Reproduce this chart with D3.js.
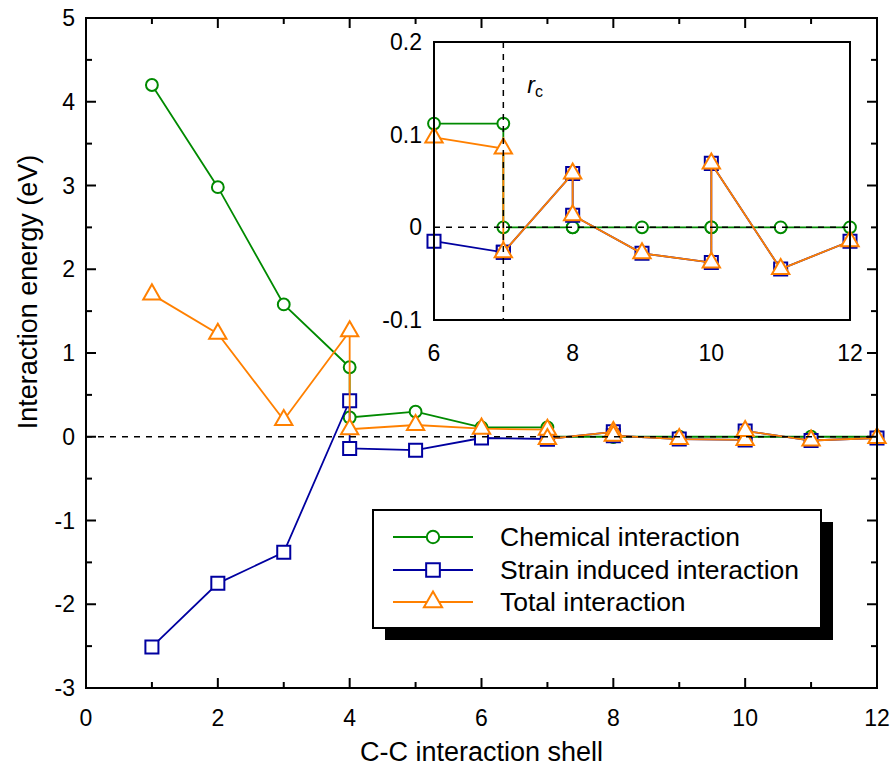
<!DOCTYPE html>
<html>
<head>
<meta charset="utf-8">
<script src="https://cdn.jsdelivr.net/npm/d3@7"></script>
<style>
    body { margin: 0; background: #fff; }
    text { font-family: "Liberation Sans", Arial, sans-serif; fill: #000; }
</style>
</head>
<body>
<div id="chart"></div>
<script>
// data (shells 4, 7, 8 and 10 have two sub-shells)
let shells = [1, 2, 3, 4, 4, 5, 6, 7, 7, 8, 8, 9, 10, 10, 11, 12];
let chemical = [4.20, 2.98, 1.58, 0.83, 0.23, 0.30, 0.112, 0.112, 0, 0, 0, 0, 0, 0, 0, 0];
let strain = [-2.51, -1.75, -1.38, 0.43, -0.14, -0.16, -0.015, -0.027, -0.027, 0.058, 0.013, -0.028, -0.038, 0.069, -0.045, -0.015];
let total = [1.70, 1.23, 0.20, 1.26, 0.09, 0.14, 0.097, 0.085, -0.027, 0.058, 0.013, -0.028, -0.038, 0.069, -0.045, -0.015];
let seriesNames = ["Chemical interaction", "Strain induced interaction", "Total interaction"];

let xTicks = [0, 2, 4, 6, 8, 10, 12];
let yTicks = [-3, -2, -1, 0, 1, 2, 3, 4, 5];
let insetXTicks = [6, 8, 10, 12];
let insetYTicks = [-0.1, 0, 0.1, 0.2];

// set size for svg container
let width = 896;
let height = 767;

let svg = d3.select("#chart").append("svg").attr("width", width).attr("height", height);

let colors = ["#008a00", "#0000a0", "#ff8000"];
let shapes = [d3.symbolCircle, d3.symbolSquare, d3.symbolTriangle];
let sizes = [110, 170, 130];
let allSeries = [chemical, strain, total];

// main chart area
let main = {left: 86, right: 877, top: 18, bottom: 688};
let xScale = d3.scaleLinear().domain([0, 12]).range([main.left, main.right]);
let yScale = d3.scaleLinear().domain([-3, 5]).range([main.bottom, main.top]);

// inset chart area
let inset = {left: 434, right: 850, top: 42, bottom: 320};
let xInset = d3.scaleLinear().domain([6, 12]).range([inset.left, inset.right]);
let yInset = d3.scaleLinear().domain([-0.1, 0.2]).range([inset.bottom, inset.top]);

function drawSeries(g, xs, ys, startIndex) {
    allSeries.forEach((values, k) => {
        let pts = shells.map((s, i) => [s, values[i]]).filter((d, i) => i >= startIndex);
        let line = d3.line().x(d => xs(d[0])).y(d => ys(d[1]));
        g.append("path").attr("d", line(pts)).attr("fill", "none")
            .attr("stroke", colors[k]).attr("stroke-width", 1.8);
        g.selectAll(".m" + k).data(pts).enter().append("path")
            .attr("class", "m" + k)
            .attr("transform", d => `translate(${xs(d[0])}, ${ys(d[1])})`)
            .attr("d", d3.symbol().type(shapes[k]).size(sizes[k]))
            .attr("fill", "white").attr("stroke", colors[k]).attr("stroke-width", 2);
    });
}

function drawTicks(g, scale, values, x0, x1, len, vertical) {
    // ticks pointing inward from both sides
    values.forEach(v => {
        let p = scale(v);
        if (vertical) {
            g.append("line").attr("x1", x0).attr("x2", x0 + len).attr("y1", p).attr("y2", p).attr("stroke", "black").attr("stroke-width", 2);
            g.append("line").attr("x1", x1).attr("x2", x1 - len).attr("y1", p).attr("y2", p).attr("stroke", "black").attr("stroke-width", 2);
        } else {
            g.append("line").attr("y1", x0).attr("y2", x0 - len).attr("x1", p).attr("x2", p).attr("stroke", "black").attr("stroke-width", 2);
            g.append("line").attr("y1", x1).attr("y2", x1 + len).attr("x1", p).attr("x2", p).attr("stroke", "black").attr("stroke-width", 2);
        }
    });
}

// main chart data
let mainGroup = svg.append("g");
drawSeries(mainGroup, xScale, yScale, 0);

// zero line
svg.append("line").attr("x1", main.left).attr("x2", main.right).attr("y1", yScale(0)).attr("y2", yScale(0))
    .attr("stroke", "black").attr("stroke-width", 1.5).attr("stroke-dasharray", "6,6");

// main frame and ticks
svg.append("rect").attr("x", main.left).attr("y", main.top).attr("width", main.right - main.left)
    .attr("height", main.bottom - main.top).attr("fill", "none").attr("stroke", "black").attr("stroke-width", 2);
let tickGroup = svg.append("g");
drawTicks(tickGroup, yScale, d3.range(-3, 5.01, 1), main.left, main.right, 10, true);
drawTicks(tickGroup, yScale, d3.range(-2.5, 5, 1), main.left, main.right, 6, true);
drawTicks(tickGroup, xScale, d3.range(0, 12.01, 2), main.bottom, main.top, 10, false);
drawTicks(tickGroup, xScale, d3.range(1, 12, 2), main.bottom, main.top, 6, false);

svg.selectAll(".ylab").data(yTicks).enter().append("text").attr("class", "ylab")
    .attr("x", main.left - 11).attr("y", d => yScale(d) + 8).attr("text-anchor", "end")
    .attr("font-size", "23px").text(d => d);
svg.selectAll(".xlab").data(xTicks).enter().append("text").attr("class", "xlab")
    .attr("x", d => xScale(d)).attr("y", main.bottom + 38).attr("text-anchor", "middle")
    .attr("font-size", "23px").text(d => d);

// axis titles
svg.append("text").attr("x", (main.left + main.right) / 2).attr("y", 761).attr("text-anchor", "middle")
    .attr("font-size", "27px").text("C-C interaction shell");
svg.append("text").attr("transform", "rotate(-90)").attr("x", -292).attr("y", 37).attr("text-anchor", "middle")
    .attr("font-size", "27px").text("Interaction energy (eV)");

// inset
svg.append("rect").attr("x", inset.left).attr("y", inset.top).attr("width", inset.right - inset.left)
    .attr("height", inset.bottom - inset.top).attr("fill", "white");
let insetGroup = svg.append("g");
drawSeries(insetGroup, xInset, yInset, 6);
svg.append("line").attr("x1", inset.left).attr("x2", inset.right).attr("y1", yInset(0)).attr("y2", yInset(0))
    .attr("stroke", "black").attr("stroke-width", 1.5).attr("stroke-dasharray", "6,6");
svg.append("line").attr("x1", xInset(7)).attr("x2", xInset(7)).attr("y1", inset.top).attr("y2", inset.bottom)
    .attr("stroke", "black").attr("stroke-width", 1.5).attr("stroke-dasharray", "6,6");
svg.append("rect").attr("x", inset.left).attr("y", inset.top).attr("width", inset.right - inset.left)
    .attr("height", inset.bottom - inset.top).attr("fill", "none").attr("stroke", "black").attr("stroke-width", 2);
drawTicks(tickGroup, yInset, [-0.05, 0.05, 0.1, 0.15], inset.left, inset.right, 10, true);

svg.selectAll(".iylab").data(insetYTicks).enter().append("text").attr("class", "iylab")
    .attr("x", inset.left - 12).attr("y", d => yInset(d) + 8).attr("text-anchor", "end")
    .attr("font-size", "23px").text(d => d);
svg.selectAll(".ixlab").data(insetXTicks).enter().append("text").attr("class", "ixlab")
    .attr("x", d => xInset(d)).attr("y", inset.bottom + 41).attr("text-anchor", "middle")
    .attr("font-size", "23px").text(d => d);

// r_c label
let rc = svg.append("text").attr("x", xInset(7) + 24).attr("y", 93).attr("font-size", "23px");
rc.append("tspan").attr("font-style", "italic").text("r");
rc.append("tspan").attr("font-size", "16px").attr("dy", 4).text("c");

// legend with shadow
let legend = {x: 373, y: 510, w: 448, h: 118};
svg.append("rect").attr("x", legend.x + 12).attr("y", legend.y + 12).attr("width", legend.w).attr("height", legend.h).attr("fill", "black");
svg.append("rect").attr("x", legend.x).attr("y", legend.y).attr("width", legend.w).attr("height", legend.h)
    .attr("fill", "white").attr("stroke", "black").attr("stroke-width", 2);
let rows = [537, 570, 602];
seriesNames.forEach((name, k) => {
    svg.append("line").attr("x1", 393).attr("x2", 473).attr("y1", rows[k]).attr("y2", rows[k])
        .attr("stroke", colors[k]).attr("stroke-width", 1.8);
    svg.append("path").attr("transform", `translate(433, ${rows[k]})`)
        .attr("d", d3.symbol().type(shapes[k]).size(sizes[k] * 1.1))
        .attr("fill", "white").attr("stroke", colors[k]).attr("stroke-width", 2);
    svg.append("text").attr("x", 500).attr("y", rows[k] + 9).attr("font-size", "26.5px").text(name);
});
</script>
</body>
</html>
